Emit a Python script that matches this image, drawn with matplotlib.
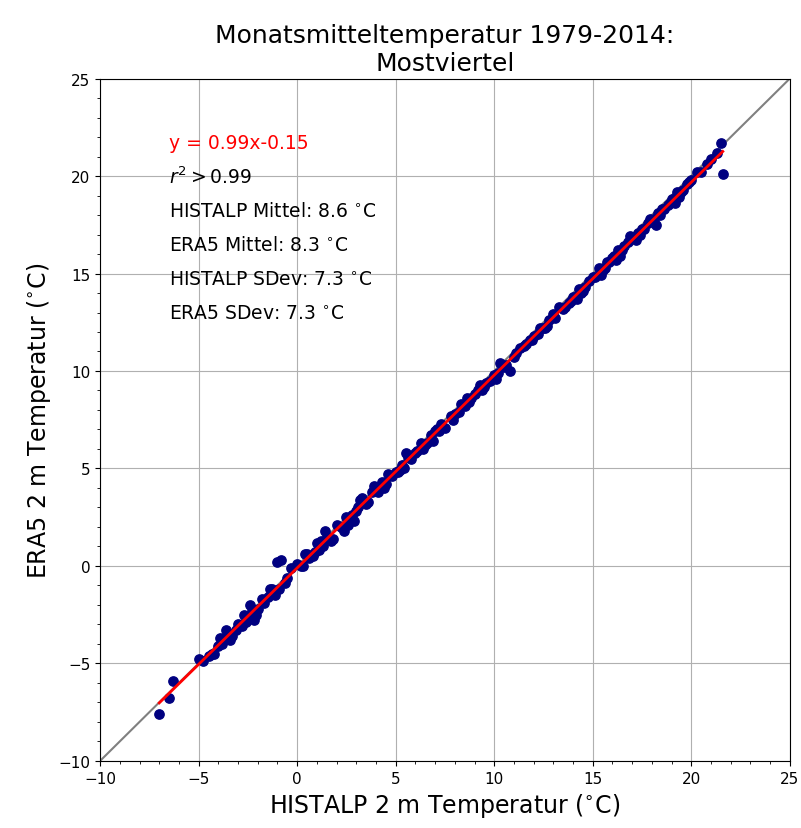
import matplotlib
matplotlib.use("Agg")
import matplotlib.pyplot as plt
import numpy as np
from matplotlib.ticker import AutoMinorLocator

histalp = [-7.0,-6.5,-6.3,-5.0,-4.8,-4.5,-4.2,-4.0,-3.8,-3.5,-3.3,-3.0,-2.8,-2.5,-2.3,-2.2,-2.0,-1.8,-1.5,-1.3,-1.0,-0.8,-0.5,-0.3,0.0,0.2,0.5,0.8,1.0,1.3,1.5,1.8,2.0,2.4,2.5,2.8,3.0,3.3,3.5,3.8,4.0,4.3,4.5,4.8,5.0,5.3,5.5,5.8,6.0,6.3,6.5,6.8,7.0,7.3,7.5,7.8,8.0,8.3,8.5,8.8,9.0,9.3,9.5,9.8,10.0,10.3,10.5,10.8,11.0,11.3,11.5,11.8,12.0,12.3,12.5,12.8,13.0,13.3,13.5,13.8,14.0,14.3,14.5,14.8,15.0,15.3,15.5,15.8,16.0,16.3,16.5,16.8,17.0,17.3,17.5,17.8,18.0,18.3,18.5,18.8,19.0,19.3,19.5,19.8,20.0,20.3,20.5,21.0,21.3,21.5,21.6,
           -4.3,-3.1,-1.7,-0.9,0.6,1.2,2.2,3.6,4.6,5.2,6.6,8.2,9.2,10.6,12.2,13.6,14.6,15.6,16.6,17.6,18.6,19.6,-2.6,0.9,3.1,6.1,7.1,9.6,11.6,14.1,16.1,17.1,18.1,19.1,
           -3.9,-3.4,-2.7,-2.1,-1.4,-0.6,0.4,1.1,1.7,2.6,3.2,3.9,4.4,5.1,5.6,6.4,7.2,7.9,8.6,9.4,10.2,11.1,11.9,12.6,13.1,13.9,14.4,15.1,15.7,16.4,16.9,17.4,17.9,18.4,18.9,19.4,19.9,20.8,
           -3.6,-2.4,-1.1,0.3,1.4,2.9,4.1,5.4,6.9,8.7,10.1,12.7,14.2,15.4,16.2,17.2,18.2,19.2]
era5 = [-7.6,-6.8,-5.9,-4.8,-4.9,-4.6,-4.5,-4.1,-4.0,-3.6,-3.6,-3.0,-3.1,-2.6,-2.3,-2.8,-2.2,-1.7,-1.6,-1.2,0.2,0.3,-0.6,-0.1,0.1,0.0,0.6,0.5,1.2,1.0,1.5,1.4,2.1,1.8,2.5,2.6,2.8,3.5,3.2,3.8,3.9,4.3,4.2,4.6,4.8,5.2,5.8,5.5,5.8,6.3,6.2,6.7,6.9,7.3,7.1,7.7,7.8,8.3,8.2,8.6,8.8,9.3,9.2,9.5,9.8,10.4,10.2,10.0,10.7,11.2,11.3,11.6,11.8,12.2,12.2,12.6,12.9,13.3,13.2,13.5,13.8,14.2,14.1,14.6,14.8,15.3,15.2,15.6,15.8,16.2,16.2,16.6,16.8,17.1,17.3,17.6,17.7,18.1,18.3,18.5,18.8,19.2,19.2,19.6,19.8,20.2,20.2,20.9,21.2,21.7,20.1,
        -4.5,-3.3,-1.9,-1.2,0.4,1.3,2.0,3.3,4.7,4.9,6.3,7.9,9.0,10.3,11.9,13.3,14.3,15.3,16.4,17.3,18.3,19.3,-2.9,0.7,3.0,5.9,7.0,9.4,11.4,13.8,15.9,16.8,17.8,18.8,
        -3.7,-3.8,-2.5,-2.5,-1.2,-0.9,0.6,0.8,1.3,2.1,3.4,4.1,4.0,4.8,5.6,6.0,6.9,7.5,8.6,9.0,9.9,10.9,11.6,12.2,12.7,13.6,14.0,14.8,15.6,15.9,16.9,17.0,17.8,18.0,18.6,18.9,19.7,20.6,
        -3.3,-2.0,-1.5,0.0,1.8,2.3,3.8,5.0,6.4,8.4,9.6,12.3,13.7,14.9,15.7,16.7,17.5,18.6]

fig = plt.figure(figsize=(8.01, 8.29), dpi=100)
ax = fig.add_axes([0.125, 0.081, 0.861, 0.823])
ax.plot([-10, 25], [-10, 25], color='gray', lw=1.5, zorder=1)
ax.scatter(histalp, era5, s=45, color='navy', zorder=2)
k, d = np.polyfit(histalp, era5, 1)
xs = np.array([min(histalp), max(histalp)])
ax.plot(xs, k*xs + d, color='red', lw=2, zorder=3)
ax.set_xlim(-10, 25); ax.set_ylim(-10, 25)
ax.set_xticks(range(-10, 26, 5)); ax.set_yticks(range(-10, 26, 5))
ax.xaxis.set_minor_locator(AutoMinorLocator(5))
ax.yaxis.set_minor_locator(AutoMinorLocator(5))
ax.grid(True, which='major', color='#b0b0b0', lw=0.8)
ax.tick_params(labelsize=11)
ax.set_axisbelow(True)
ax.set_xlabel('HISTALP 2 m Temperatur ($^{\\circ}$C)', fontsize=17)
ax.set_ylabel('ERA5 2 m Temperatur ($^{\\circ}$C)', fontsize=17)
ax.set_title('Monatsmitteltemperatur 1979-2014:\nMostviertel', fontsize=18)
fs = 13.5
ax.text(-6.5, 21.7, 'y = 0.99x-0.15', color='red', fontsize=fs, va='center')
lines = ['$r^2 > 0.99$', 'HISTALP Mittel: 8.6 $^{\\circ}$C', 'ERA5 Mittel: 8.3 $^{\\circ}$C',
         'HISTALP SDev: 7.3 $^{\\circ}$C', 'ERA5 SDev: 7.3 $^{\\circ}$C']
for i, t in enumerate(lines):
    ax.text(-6.5, 20.0 - 1.75*i, t, color='black', fontsize=fs, va='center')
fig.savefig('out.png', dpi=100)
